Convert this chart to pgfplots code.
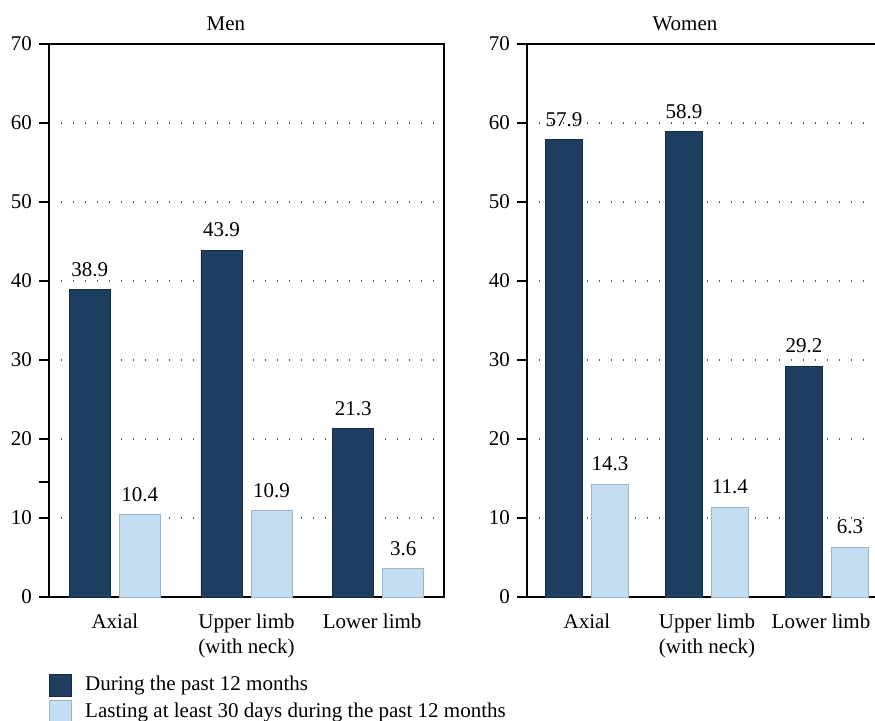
\documentclass[border=0pt]{standalone}
\usepackage{fontspec}
\setmainfont{Liberation Serif}
\usepackage{pgfplots}
\pgfplotsset{compat=1.18}

\definecolor{darkbar}{HTML}{1E3F62}
\definecolor{darkedge}{HTML}{142B45}
\definecolor{lightbar}{HTML}{C3DDF2}
\definecolor{lightedge}{HTML}{9DB4C6}

\newcommand{\chartfont}{\fontsize{10.5}{12.5}\selectfont}

\pgfplotsset{
  panel/.style={
    scale only axis,
    anchor=south west,
    height=276.5pt,
    ybar=4.5pt,
    ymin=0, ymax=70,
    ytick={0,10,...,70},
    ytick pos=left,
    xmin=-0.5,
    xtick={0,1,2},
    xticklabels={Axial, {Upper limb\\(with neck)}, {\hspace*{-6pt}Lower limb}},
    xticklabel style={align=center, font=\chartfont},
    yticklabel style={font=\chartfont},
    /pgf/number format/assume math mode=true,
    xtick style={draw=none},
    ytick style={line width=1pt, black},
    major tick length=5pt,
    tick align=outside,
    axis line style={line width=0.8pt},
    ymajorgrids=true,
    grid style={gray!70!black, line width=0.7pt, dash pattern=on 0.7pt off 5.3pt},
    title style={font=\chartfont, yshift=-3pt},
    nodes near coords,
    nodes near coords style={font=\chartfont, /pgf/number format/fixed, /pgf/number format/precision=1, /pgf/number format/fixed zerofill, /pgf/number format/assume math mode=true, yshift=3pt},
  },
}

\begin{document}
\begin{tikzpicture}
% Men
\begin{axis}[
  panel,
  name=men,
  at={(0,0)},
  width=197.5pt,
  xmax=2.5,
  bar width=20.5pt,
  title={Men},
  title style={at={(0.448,1)}},
  extra y ticks={14.6},
  extra y tick labels={},
  extra y tick style={grid=none},
  legend style={
    at={(rel axis cs:0,-0.1356)},
    anchor=north west,
    draw=none, fill=none,
    inner sep=0pt,
    row sep=0.3pt,
    font=\chartfont,
    cells={anchor=west},
    /tikz/every odd column/.append style={column sep=4.5pt},
  },
  legend image code/.code={\fill[#1] (0pt,-5.5pt) rectangle (11pt,5.5pt);},
]
\addplot[fill=darkbar, draw=darkedge] coordinates {(0,38.9) (1,43.9) (2,21.3)};
\addlegendentry{During the past 12 months}
\addplot[fill=lightbar, draw=lightedge] coordinates {(0,10.4) (1,10.9) (2,3.6)};
\addlegendentry{Lasting at least 30 days during the past 12 months}
\end{axis}

% Women
\begin{axis}[
  panel,
  name=women,
  at={(239pt,0)},
  width=174pt,
  xmax=2.4,
  bar width=18.5pt,
  title={Women},
  title style={at={(0.454,1)}},
  axis x line*=box,
  axis y line*=left,
]
\addplot[fill=darkbar, draw=darkedge] coordinates {(0,57.9) (1,58.9) (2,29.2)};
\addplot[fill=lightbar, draw=lightedge] coordinates {(0,14.3) (1,11.4) (2,6.3)};
\end{axis}

\pgfresetboundingbox
\useasboundingbox (-24.5pt,-61.5pt) rectangle (413pt,298.5pt);
\end{tikzpicture}
\end{document}
